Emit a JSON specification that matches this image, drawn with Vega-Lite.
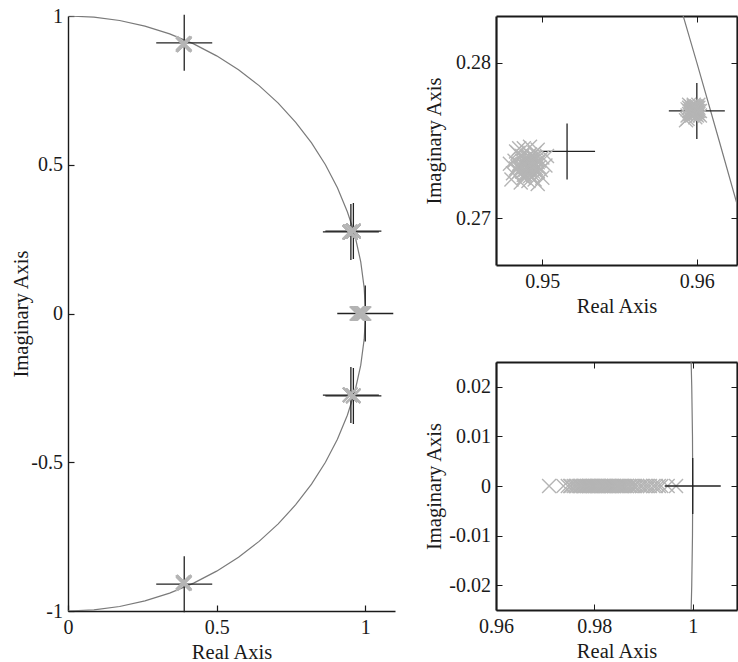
{
  "$schema": "https://vega.github.io/schema/vega-lite/v6.json",
  "autosize": {"type": "none"},
  "padding": {"left": 68, "top": 16, "right": 670, "bottom": 646},
  "bounds": "flush",
  "spacing": 101,
  "background": "white",
  "config": {
    "font": "Liberation Serif",
    "view": {"stroke": null},
    "axis": {
      "labelFont": "Liberation Serif", "titleFont": "Liberation Serif",
      "labelFontSize": 20, "titleFontSize": 20.5, "titleFontWeight": "normal",
      "labelColor": "#1a1a1a", "titleColor": "#1a1a1a",
      "domainColor": "#1a1a1a", "tickColor": "#1a1a1a",
      "grid": false, "tickSize": -6, "labelOverlap": false, "labelFlush": false,
      "labelExpr": "'' + datum.value"
    },
    "axisBottom": {"labelBaseline": "alphabetic", "labelPadding": 28, "titleBaseline": "alphabetic", "titleY": 47},
    "axisLeft": {"labelPadding": 11.5, "titleBaseline": "alphabetic"}
  },
  "datasets": {
    "circle": [
      {"re": 0, "im": 1, "deg": 90},
      {"re": 0.0872, "im": 0.9962, "deg": 85},
      {"re": 0.1736, "im": 0.9848, "deg": 80},
      {"re": 0.2588, "im": 0.9659, "deg": 75},
      {"re": 0.342, "im": 0.9397, "deg": 70},
      {"re": 0.4226, "im": 0.9063, "deg": 65},
      {"re": 0.5, "im": 0.866, "deg": 60},
      {"re": 0.5736, "im": 0.8192, "deg": 55},
      {"re": 0.6428, "im": 0.766, "deg": 50},
      {"re": 0.7071, "im": 0.7071, "deg": 45},
      {"re": 0.766, "im": 0.6428, "deg": 40},
      {"re": 0.8192, "im": 0.5736, "deg": 35},
      {"re": 0.866, "im": 0.5, "deg": 30},
      {"re": 0.9063, "im": 0.4226, "deg": 25},
      {"re": 0.9397, "im": 0.342, "deg": 20},
      {"re": 0.95703, "im": 0.29, "deg": 16.86},
      {"re": 0.95853, "im": 0.285, "deg": 16.56},
      {"re": 0.96, "im": 0.28, "deg": 16.26},
      {"re": 0.96144, "im": 0.275, "deg": 15.96},
      {"re": 0.96286, "im": 0.27, "deg": 15.66},
      {"re": 0.96425, "im": 0.265, "deg": 15.37},
      {"re": 0.96561, "im": 0.26, "deg": 15.07},
      {"re": 0.96593, "im": 0.25882, "deg": 15},
      {"re": 0.9848, "im": 0.1736, "deg": 10},
      {"re": 0.9962, "im": 0.0872, "deg": 5},
      {"re": 0.99955, "im": 0.03, "deg": 1.72},
      {"re": 0.9998, "im": 0.02, "deg": 1.15},
      {"re": 0.99995, "im": 0.01, "deg": 0.57},
      {"re": 1, "im": 0, "deg": 0},
      {"re": 0.99995, "im": -0.01, "deg": -0.57},
      {"re": 0.9998, "im": -0.02, "deg": -1.15},
      {"re": 0.99955, "im": -0.03, "deg": -1.72},
      {"re": 0.9962, "im": -0.0872, "deg": -5},
      {"re": 0.9848, "im": -0.1736, "deg": -10},
      {"re": 0.96593, "im": -0.25882, "deg": -15},
      {"re": 0.9397, "im": -0.342, "deg": -20},
      {"re": 0.9063, "im": -0.4226, "deg": -25},
      {"re": 0.866, "im": -0.5, "deg": -30},
      {"re": 0.8192, "im": -0.5736, "deg": -35},
      {"re": 0.766, "im": -0.6428, "deg": -40},
      {"re": 0.7071, "im": -0.7071, "deg": -45},
      {"re": 0.6428, "im": -0.766, "deg": -50},
      {"re": 0.5736, "im": -0.8192, "deg": -55},
      {"re": 0.5, "im": -0.866, "deg": -60},
      {"re": 0.4226, "im": -0.9063, "deg": -65},
      {"re": 0.342, "im": -0.9397, "deg": -70},
      {"re": 0.2588, "im": -0.9659, "deg": -75},
      {"re": 0.1736, "im": -0.9848, "deg": -80},
      {"re": 0.0872, "im": -0.9962, "deg": -85},
      {"re": 0, "im": -1, "deg": -90}
    ],
    "truep": [
      {"re": 0.391, "im": 0.91},
      {"re": 0.391, "im": -0.91},
      {"re": 0.9516, "im": 0.2743},
      {"re": 0.9516, "im": -0.2743},
      {"re": 0.96, "im": 0.2769},
      {"re": 0.96, "im": -0.2769},
      {"re": 1.0, "im": 0}
    ],
    "est": [
      {"re": 0.9491, "im": 0.2734}, {"re": 0.9489, "im": 0.2737}, {"re": 0.9494, "im": 0.2732}, {"re": 0.9487, "im": 0.273},
      {"re": 0.9496, "im": 0.2738}, {"re": 0.9492, "im": 0.2741}, {"re": 0.9485, "im": 0.2735}, {"re": 0.9494, "im": 0.2728},
      {"re": 0.9498, "im": 0.2733}, {"re": 0.9486, "im": 0.274}, {"re": 0.9491, "im": 0.2729}, {"re": 0.9495, "im": 0.2742},
      {"re": 0.9483, "im": 0.2732}, {"re": 0.9499, "im": 0.2731}, {"re": 0.9489, "im": 0.2733}, {"re": 0.9493, "im": 0.2738},
      {"re": 0.9488, "im": 0.2726}, {"re": 0.9497, "im": 0.2736}, {"re": 0.9484, "im": 0.2742}, {"re": 0.9493, "im": 0.2734},
      {"re": 0.9482, "im": 0.2737}, {"re": 0.95, "im": 0.2739}, {"re": 0.9491, "im": 0.2724}, {"re": 0.9481, "im": 0.2729},
      {"re": 0.9497, "im": 0.2744}, {"re": 0.9488, "im": 0.2745}, {"re": 0.9495, "im": 0.2725}, {"re": 0.9502, "im": 0.2734},
      {"re": 0.9479, "im": 0.2735}, {"re": 0.9492, "im": 0.2746}, {"re": 0.9486, "im": 0.2723}, {"re": 0.95, "im": 0.2726},
      {"re": 0.9483, "im": 0.2743}, {"re": 0.9503, "im": 0.274}, {"re": 0.948, "im": 0.2725}, {"re": 0.949, "im": 0.2737},
      {"re": 0.9495, "im": 0.2731}, {"re": 0.9489, "im": 0.2728}, {"re": 0.9485, "im": 0.2745}, {"re": 0.9497, "im": 0.2722},
      {"re": 0.9492, "im": 0.2735}, {"re": 0.949, "im": 0.2736}, {"re": 0.9493, "im": 0.2733}, {"re": 0.9488, "im": 0.2734},
      {"re": 0.9491, "im": 0.2737}, {"re": 0.9494, "im": 0.2737}, {"re": 0.9489, "im": 0.2731}, {"re": 0.9495, "im": 0.2735},
      {"re": 0.9487, "im": 0.2737}, {"re": 0.9492, "im": 0.2731}, {"re": 0.949, "im": 0.2739}, {"re": 0.9496, "im": 0.2732},
      {"re": 0.9486, "im": 0.2732}, {"re": 0.9493, "im": 0.274}, {"re": 0.9488, "im": 0.2738}, {"re": 0.9494, "im": 0.273},
      {"re": 0.9491, "im": 0.2732}, {"re": 0.949, "im": 0.2733}, {"re": 0.9497, "im": 0.273}, {"re": 0.9485, "im": 0.273},
      {"re": 0.9495, "im": 0.2739}, {"re": 0.9487, "im": 0.274}, {"re": 0.9492, "im": 0.2727}, {"re": 0.9484, "im": 0.2733},
      {"re": 0.9498, "im": 0.2737}, {"re": 0.9491, "im": 0.274}, {"re": 0.9496, "im": 0.2734}, {"re": 0.9489, "im": 0.2735},
      {"re": 0.9493, "im": 0.2736}, {"re": 0.9488, "im": 0.2728},
      {"re": 0.9598, "im": 0.2769}, {"re": 0.96, "im": 0.277}, {"re": 0.9596, "im": 0.2768}, {"re": 0.9601, "im": 0.2767},
      {"re": 0.9595, "im": 0.2771}, {"re": 0.9599, "im": 0.2772}, {"re": 0.9597, "im": 0.2766}, {"re": 0.9601, "im": 0.2771},
      {"re": 0.9595, "im": 0.2767}, {"re": 0.96, "im": 0.2766}, {"re": 0.9596, "im": 0.2772}, {"re": 0.9602, "im": 0.2769},
      {"re": 0.9594, "im": 0.277}, {"re": 0.9598, "im": 0.2773}, {"re": 0.9599, "im": 0.2765}, {"re": 0.9597, "im": 0.277},
      {"re": 0.9599, "im": 0.2768}, {"re": 0.96, "im": 0.2768}, {"re": 0.9596, "im": 0.2769}, {"re": 0.9598, "im": 0.2767},
      {"re": 0.9601, "im": 0.2773}, {"re": 0.9594, "im": 0.2766}, {"re": 0.9602, "im": 0.2766}, {"re": 0.9595, "im": 0.2773},
      {"re": 0.9593, "im": 0.2763}, {"re": 0.9594, "im": 0.2764}, {"re": 0.9598, "im": 0.2771}, {"re": 0.9597, "im": 0.2768},
      {"re": 0.96, "im": 0.2772}, {"re": 0.9599, "im": 0.2769},
      {"re": 0.9598, "im": 0.277}, {"re": 0.9599, "im": 0.2771}, {"re": 0.9597, "im": 0.2769}, {"re": 0.9598, "im": 0.2768},
      {"re": 0.9599, "im": 0.277}, {"re": 0.9597, "im": 0.2771}, {"re": 0.96, "im": 0.2769}, {"re": 0.9596, "im": 0.2767},
      {"re": 0.96, "im": 0.2771}, {"re": 0.9597, "im": 0.2767}, {"re": 0.9601, "im": 0.2769}, {"re": 0.9595, "im": 0.2769},
      {"re": 0.9598, "im": 0.2772}, {"re": 0.9599, "im": 0.2767}, {"re": 0.9596, "im": 0.277},
      {"re": 0.9491, "im": -0.2734}, {"re": 0.9487, "im": -0.273}, {"re": 0.9496, "im": -0.2738}, {"re": 0.9485, "im": -0.2735},
      {"re": 0.9498, "im": -0.2733}, {"re": 0.9483, "im": -0.2732}, {"re": 0.9493, "im": -0.2738}, {"re": 0.9491, "im": -0.2724},
      {"re": 0.9502, "im": -0.2734}, {"re": 0.9479, "im": -0.2735}, {"re": 0.9492, "im": -0.2746}, {"re": 0.95, "im": -0.2726},
      {"re": 0.9598, "im": -0.2769}, {"re": 0.96, "im": -0.277}, {"re": 0.9596, "im": -0.2768}, {"re": 0.9601, "im": -0.2767},
      {"re": 0.9595, "im": -0.2771}, {"re": 0.9599, "im": -0.2772}, {"re": 0.9602, "im": -0.2769}, {"re": 0.9594, "im": -0.277},
      {"re": 0.9593, "im": -0.2763}, {"re": 0.96, "im": -0.2766},
      {"re": 0.389, "im": 0.906}, {"re": 0.392, "im": 0.908}, {"re": 0.386, "im": 0.904}, {"re": 0.39, "im": 0.902},
      {"re": 0.387, "im": 0.909}, {"re": 0.393, "im": 0.905}, {"re": 0.388, "im": 0.907}, {"re": 0.391, "im": 0.903},
      {"re": 0.389, "im": -0.906}, {"re": 0.392, "im": -0.908}, {"re": 0.386, "im": -0.904}, {"re": 0.39, "im": -0.902},
      {"re": 0.387, "im": -0.909}, {"re": 0.393, "im": -0.905}, {"re": 0.388, "im": -0.907}, {"re": 0.391, "im": -0.903},
      {"re": 0.9708, "im": 0}, {"re": 0.9737, "im": 0}, {"re": 0.9746, "im": 0}, {"re": 0.9751, "im": 0},
      {"re": 0.9753, "im": 0}, {"re": 0.9758, "im": 0}, {"re": 0.9762, "im": 0}, {"re": 0.9764, "im": 0},
      {"re": 0.9768, "im": 0}, {"re": 0.9771, "im": 0}, {"re": 0.9772, "im": 0}, {"re": 0.9776, "im": 0},
      {"re": 0.9779, "im": 0}, {"re": 0.9781, "im": 0}, {"re": 0.9784, "im": 0}, {"re": 0.9786, "im": 0},
      {"re": 0.9789, "im": 0}, {"re": 0.979, "im": 0}, {"re": 0.9793, "im": 0}, {"re": 0.9796, "im": 0},
      {"re": 0.9798, "im": 0}, {"re": 0.9801, "im": 0}, {"re": 0.9802, "im": 0}, {"re": 0.9805, "im": 0},
      {"re": 0.9808, "im": 0}, {"re": 0.9809, "im": 0}, {"re": 0.9813, "im": 0}, {"re": 0.9814, "im": 0},
      {"re": 0.9817, "im": 0}, {"re": 0.9819, "im": 0}, {"re": 0.9822, "im": 0}, {"re": 0.9823, "im": 0},
      {"re": 0.9826, "im": 0}, {"re": 0.9829, "im": 0}, {"re": 0.9831, "im": 0}, {"re": 0.9834, "im": 0},
      {"re": 0.9836, "im": 0}, {"re": 0.9839, "im": 0}, {"re": 0.9841, "im": 0}, {"re": 0.9845, "im": 0},
      {"re": 0.9847, "im": 0}, {"re": 0.985, "im": 0}, {"re": 0.9854, "im": 0}, {"re": 0.9856, "im": 0},
      {"re": 0.9859, "im": 0}, {"re": 0.9863, "im": 0}, {"re": 0.9866, "im": 0}, {"re": 0.9871, "im": 0},
      {"re": 0.9874, "im": 0}, {"re": 0.9879, "im": 0}, {"re": 0.9882, "im": 0}, {"re": 0.9887, "im": 0},
      {"re": 0.9893, "im": 0}, {"re": 0.9897, "im": 0}, {"re": 0.9903, "im": 0}, {"re": 0.9908, "im": 0},
      {"re": 0.9913, "im": 0}, {"re": 0.992, "im": 0}, {"re": 0.9925, "im": 0}, {"re": 0.9931, "im": 0},
      {"re": 0.9936, "im": 0}, {"re": 0.9949, "im": 0}, {"re": 0.9966, "im": 0}
    ]
  },
  "hconcat": [
    {
      "width": 327,
      "height": 595,
      "layer": [
        {
          "data": {"name": "circle"},
          "mark": {"type": "line", "color": "#7a7a7a", "strokeWidth": 1.2, "clip": true},
          "encoding": {
            "x": {"field": "re", "type": "quantitative", "scale": {"domain": [0, 1.1], "nice": false, "zero": false},
                  "axis": {"title": "Real Axis", "values": [0, 0.5, 1], "domainWidth": 1.4, "tickWidth": 1.2}},
            "y": {"field": "im", "type": "quantitative", "scale": {"domain": [-1, 1], "nice": false, "zero": false},
                  "axis": {"title": "Imaginary Axis", "values": [-1, -0.5, 0, 0.5, 1], "domainWidth": 1.4, "tickWidth": 1.2, "titleX": -41}},
            "order": {"field": "deg", "sort": "descending"}
          }
        },
        {
          "data": {"name": "truep"},
          "mark": {"type": "point", "shape": "M-1,0L1,0M0,-1L0,1", "size": 3136, "filled": false, "color": "#222222", "strokeWidth": 1.3, "opacity": 1},
          "encoding": {
            "x": {"field": "re", "type": "quantitative", "scale": {"domain": [0, 1.1], "nice": false, "zero": false}},
            "y": {"field": "im", "type": "quantitative", "scale": {"domain": [-1, 1], "nice": false, "zero": false}}
          }
        },
        {
          "data": {"name": "est"},
          "mark": {"type": "point", "shape": "M-1,-1L1,1M-1,1L1,-1", "size": 196, "filled": false, "color": "#b5b5b5", "strokeWidth": 1.6, "opacity": 1},
          "encoding": {
            "x": {"field": "re", "type": "quantitative", "scale": {"domain": [0, 1.1], "nice": false, "zero": false}},
            "y": {"field": "im", "type": "quantitative", "scale": {"domain": [-1, 1], "nice": false, "zero": false}}
          }
        }
      ]
    },
    {
      "bounds": "flush",
      "spacing": 97,
      "vconcat": [
        {
          "width": 241,
          "height": 249,
          "resolve": {"axis": {"x": "independent", "y": "independent"}},
          "layer": [
            {
              "data": {"name": "circle"},
              "mark": {"type": "line", "color": "#7a7a7a", "strokeWidth": 1.2, "clip": true},
              "encoding": {
                "x": {"field": "re", "type": "quantitative", "scale": {"domain": [0.947, 0.9626], "nice": false, "zero": false},
                      "axis": {"title": "Real Axis", "values": [0.95, 0.96], "domainWidth": 2.2, "tickWidth": 1}},
                "y": {"field": "im", "type": "quantitative", "scale": {"domain": [0.267, 0.283], "nice": false, "zero": false},
                      "axis": {"title": "Imaginary Axis", "values": [0.27, 0.28], "domainWidth": 2.2, "tickWidth": 1, "titleX": -56}},
                "order": {"field": "deg", "sort": "descending"}
              }
            },
            {
              "data": {"name": "truep"},
              "mark": {"type": "point", "shape": "M-1,0L1,0M0,-1L0,1", "size": 3136, "filled": false, "color": "#222222", "strokeWidth": 1.3, "opacity": 1, "clip": true},
              "encoding": {
                "x": {"field": "re", "type": "quantitative", "scale": {"domain": [0.947, 0.9626], "nice": false, "zero": false},
                      "axis": {"orient": "top", "title": null, "labels": false, "values": [0.95, 0.96], "domainWidth": 2.2, "tickWidth": 1}},
                "y": {"field": "im", "type": "quantitative", "scale": {"domain": [0.267, 0.283], "nice": false, "zero": false},
                      "axis": {"orient": "right", "title": null, "labels": false, "values": [0.27, 0.28], "domainWidth": 2.2, "tickWidth": 1}}
              }
            },
            {
              "data": {"name": "est"},
              "mark": {"type": "point", "shape": "M-1,-1L1,1M-1,1L1,-1", "size": 196, "filled": false, "color": "#b5b5b5", "strokeWidth": 1.4, "opacity": 1, "clip": true},
              "encoding": {
                "x": {"field": "re", "type": "quantitative", "scale": {"domain": [0.947, 0.9626], "nice": false, "zero": false}, "axis": null},
                "y": {"field": "im", "type": "quantitative", "scale": {"domain": [0.267, 0.283], "nice": false, "zero": false}, "axis": null}
              }
            }
          ]
        },
        {
          "width": 241,
          "height": 248,
          "resolve": {"axis": {"x": "independent", "y": "independent"}},
          "layer": [
            {
              "data": {"name": "circle"},
              "mark": {"type": "line", "color": "#7a7a7a", "strokeWidth": 1.2, "clip": true},
              "encoding": {
                "x": {"field": "re", "type": "quantitative", "scale": {"domain": [0.96, 1.009], "nice": false, "zero": false},
                      "axis": {"title": "Real Axis", "values": [0.96, 0.98, 1], "domainWidth": 2.2, "tickWidth": 1}},
                "y": {"field": "im", "type": "quantitative", "scale": {"domain": [-0.025, 0.025], "nice": false, "zero": false},
                      "axis": {"title": "Imaginary Axis", "values": [-0.02, -0.01, 0, 0.01, 0.02], "domainWidth": 2.2, "tickWidth": 1, "titleX": -56}},
                "order": {"field": "deg", "sort": "descending"}
              }
            },
            {
              "data": {"name": "est"},
              "mark": {"type": "point", "shape": "M-1,-1L1,1M-1,1L1,-1", "size": 196, "filled": false, "color": "#b5b5b5", "strokeWidth": 1.4, "opacity": 1, "clip": true},
              "encoding": {
                "x": {"field": "re", "type": "quantitative", "scale": {"domain": [0.96, 1.009], "nice": false, "zero": false},
                      "axis": {"orient": "top", "title": null, "labels": false, "values": [0.96, 0.98, 1], "domainWidth": 2.2, "tickWidth": 1}},
                "y": {"field": "im", "type": "quantitative", "scale": {"domain": [-0.025, 0.025], "nice": false, "zero": false},
                      "axis": {"orient": "right", "title": null, "labels": false, "values": [-0.02, -0.01, 0, 0.01, 0.02], "domainWidth": 2.2, "tickWidth": 1}}
              }
            },
            {
              "data": {"name": "truep"},
              "mark": {"type": "point", "shape": "M-1,0L1,0M0,-1L0,1", "size": 3136, "filled": false, "color": "#222222", "strokeWidth": 1.3, "opacity": 1, "clip": true},
              "encoding": {
                "x": {"field": "re", "type": "quantitative", "scale": {"domain": [0.96, 1.009], "nice": false, "zero": false}, "axis": null},
                "y": {"field": "im", "type": "quantitative", "scale": {"domain": [-0.025, 0.025], "nice": false, "zero": false}, "axis": null}
              }
            }
          ]
        }
      ]
    }
  ]
}
